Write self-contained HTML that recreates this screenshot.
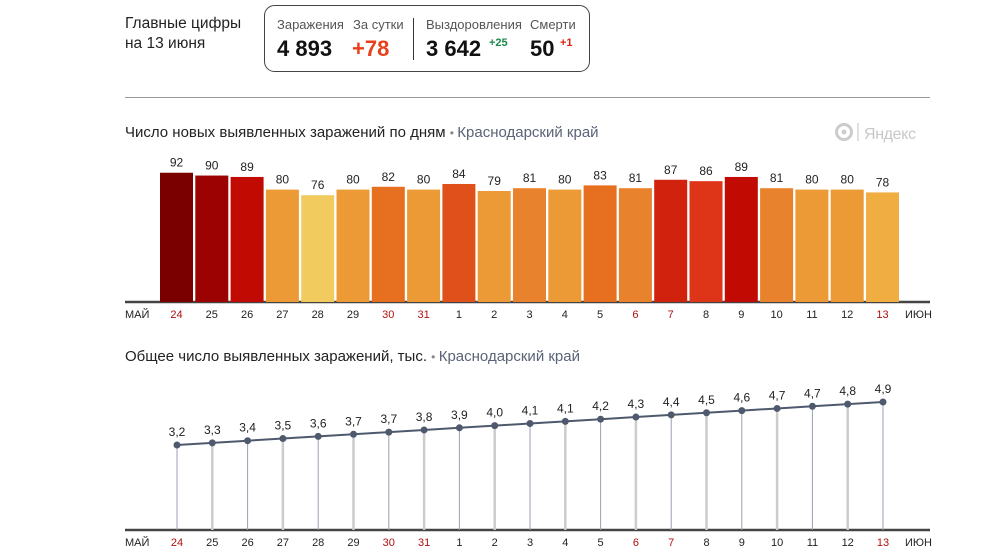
<!DOCTYPE html>
<html><head><meta charset="utf-8"><style>
html,body{margin:0;padding:0;background:#fff;width:1000px;height:555px;overflow:hidden}
svg{display:block;font-family:"Liberation Sans","DejaVu Sans",sans-serif}
</style></head><body>
<svg id="s" width="1000" height="555" xmlns="http://www.w3.org/2000/svg">
<text x="125" y="28" font-size="15.5" fill="#222">Главные цифры</text>
<text x="125" y="48" font-size="15.5" fill="#222">на 13 июня</text>
<rect x="264.5" y="5.5" width="325" height="66" rx="10" fill="#fff" stroke="#444" stroke-width="1"/>
<text x="277" y="29" font-size="13" fill="#555">Заражения</text>
<text x="353" y="29" font-size="13" fill="#555">За сутки</text>
<text x="426" y="29" font-size="13" fill="#555">Выздоровления</text>
<text x="530" y="29" font-size="13" fill="#555">Смерти</text>
<line x1="413.5" y1="18" x2="413.5" y2="60" stroke="#333" stroke-width="1"/>
<text x="277" y="56" font-size="22" font-weight="bold" fill="#111">4 893</text>
<text x="352" y="56" font-size="22" font-weight="bold" fill="#e8401a">+78</text>
<text x="426" y="56" font-size="22" font-weight="bold" fill="#111">3 642</text>
<text x="489" y="46" font-size="11" font-weight="bold" fill="#1a8a4a">+25</text>
<text x="530" y="56" font-size="22" font-weight="bold" fill="#111">50</text>
<text x="560" y="46" font-size="11" font-weight="bold" fill="#e02010">+1</text>
<line x1="125" y1="97.5" x2="930" y2="97.5" stroke="#999" stroke-width="1"/>
<text x="125" y="137" font-size="15" fill="#222">Число новых выявленных заражений по дням <tspan fill="#888" font-size="12">  •  </tspan><tspan fill="#5a6477">Краснодарский край</tspan></text>
<circle cx="844" cy="132" r="7.5" fill="none" stroke="#ccc" stroke-width="3"/>
<circle cx="844" cy="132" r="2.5" fill="#ccc"/>
<line x1="858" y1="123" x2="858" y2="141" stroke="#ccc" stroke-width="1.2"/>
<text x="864" y="139" font-size="16" fill="#c8c8c8" textLength="52">Яндекс</text>
<text x="125" y="361" font-size="15" fill="#222">Общее число выявленных заражений, тыс. <tspan fill="#888" font-size="12">  •  </tspan><tspan fill="#5a6477">Краснодарский край</tspan></text>
<line x1="125" y1="302" x2="930" y2="302" stroke="#444" stroke-width="2.5"/>
<line x1="125" y1="530" x2="930" y2="530" stroke="#444" stroke-width="2.5"/>
</svg>
<script>
var NS="http://www.w3.org/2000/svg",s=document.getElementById('s');
function el(t,a,txt){var e=document.createElementNS(NS,t);for(var k in a)e.setAttribute(k,a[k]);if(txt!=null)e.textContent=txt;s.appendChild(e);return e;}
var v=[92,90,89,80,76,80,82,80,84,79,81,80,83,81,87,86,89,81,80,80,78];
var c=["#7a0000","#9c0202","#c00a02","#ec9a35","#f2cb5e","#ec9a35","#e6701f","#ec9a35","#e0501a","#ec9a35","#e9822c","#ec9a35","#e6701f","#e9822c","#d0220c","#de3417","#c00a02","#e9822c","#ec9a35","#ec9a35","#efad42"];
var d=["24","25","26","27","28","29","30","31","1","2","3","4","5","6","7","8","9","10","11","12","13"];
var red={"24":1,"30":1,"31":1,"6":1,"7":1,"13":1};
var L=[3.2,3.3,3.4,3.5,3.6,3.7,3.7,3.8,3.9,4.0,4.1,4.1,4.2,4.3,4.4,4.5,4.6,4.7,4.7,4.8,4.9];
var pts=[];
for(var i=0;i<21;i++){
 var x=160+i*35.3,h=v[i]*1.405,cx=x+16.5;
 el('rect',{x:x,y:302-h,width:33,height:h,fill:c[i]});
 el('text',{x:cx,y:302-h-6,'font-size':12,'text-anchor':'middle',fill:'#222'},v[i]);
 var col=red[d[i]]?'#b01010':'#222';
 el('text',{x:cx,y:318,'font-size':11,'text-anchor':'middle',fill:col},d[i]);
 var px=177+i*35.3,py=445-(i*43/20);
 pts.push(px+','+py);
 el('line',{x1:px,y1:py,x2:px,y2:530,stroke:(i%2?'#ccc':'#9aa0b0'),'stroke-width':(i%2?2.5:1)});
 el('text',{x:px,y:py-9,'font-size':12,'text-anchor':'middle',fill:'#222'},L[i].toFixed(1).replace('.',','));
 el('text',{x:px,y:546,'font-size':11,'text-anchor':'middle',fill:col},d[i]);
}
el('polyline',{points:pts.join(' '),fill:'none',stroke:'#4f596e','stroke-width':2});
pts.forEach(function(p){var a=p.split(',');el('circle',{cx:a[0],cy:a[1],r:3.5,fill:'#4f596e'});});
[318,546].forEach(function(y){
 el('text',{x:125,y:y,'font-size':11,fill:'#222'},'МАЙ');
 el('text',{x:905,y:y,'font-size':11,fill:'#222'},'ИЮН');
});
</script>
</body></html>
